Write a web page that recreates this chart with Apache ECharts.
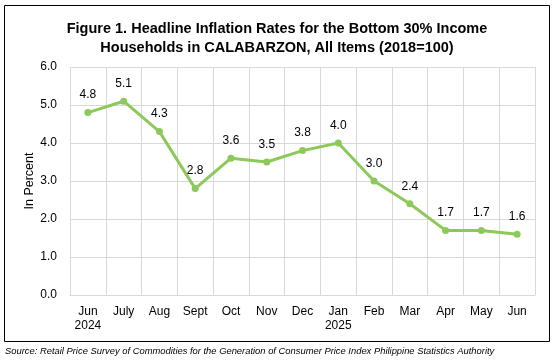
<!DOCTYPE html>
<html><head><meta charset="utf-8">
<script src="https://cdn.jsdelivr.net/npm/echarts@6/dist/echarts.min.js"></script>
<style>html,body{margin:0;padding:0;background:#fff}#c{width:554px;height:363px}</style>
</head><body><div id="c"></div>
<script>
const categories = ['Jun\n2024','July','Aug','Sept','Oct','Nov','Dec','Jan\n2025','Feb','Mar','Apr','May','Jun'];
const values = [4.8,5.1,4.3,2.8,3.6,3.5,3.8,4.0,3.0,2.4,1.7,1.7,1.6];
const yTicks = [0,1,2,3,4,5,6];
const titleText = 'Figure 1. Headline Inflation Rates for the Bottom 30% Income\nHouseholds in CALABARZON, All Items (2018=100)';
const sourceText = 'Source: Retail Price Survey of Commodities for the Generation of Consumer Price Index Philippine Statistics Authority';
const F = '"Liberation Sans", Arial, sans-serif';
const chart = echarts.init(document.getElementById('c'), null, {renderer:'canvas'});
chart.setOption({
  animation:false,
  backgroundColor:'#fff',
  title:{text:titleText,left:'center',top:14,textStyle:{fontFamily:F,fontSize:14.5,fontWeight:'bold',color:'#000',lineHeight:19}},
  graphic:[
    {type:'rect',shape:{x:4.5,y:5.5,width:545,height:336},style:{fill:'none',stroke:'#000',lineWidth:1}},
    {type:'text',left:5,top:347,style:{text:sourceText,font:'italic 9.4px '+F,fill:'#000'}}
  ],
  grid:{left:70,right:19,top:67,bottom:68},
  xAxis:{type:'category',data:categories,boundaryGap:true,
    axisLine:{show:true,lineStyle:{color:'#d9d9d9'}},axisTick:{show:false},
    splitLine:{show:true,lineStyle:{color:'#d9d9d9'}},
    axisLabel:{fontFamily:F,fontSize:12,color:'#000',margin:10,lineHeight:14,interval:0}},
  yAxis:{type:'value',min:yTicks[0],max:yTicks[yTicks.length-1],interval:1,
    name:'In Percent',nameLocation:'middle',nameGap:34,nameMoveOverlap:false,nameTextStyle:{fontFamily:F,fontSize:12.5,color:'#000'},
    axisLine:{show:false},axisTick:{show:false},
    splitLine:{lineStyle:{color:'#d9d9d9'}},
    axisLabel:{fontFamily:F,fontSize:12,color:'#000',margin:13,formatter:v=>v.toFixed(1)}},
  series:[{type:'line',data:values,symbol:'circle',symbolSize:7,
    lineStyle:{color:'#8dc85b',width:3},itemStyle:{color:'#8dc85b'},
    label:{show:true,position:'top',distance:8,fontFamily:F,fontSize:12,color:'#000',formatter:p=>p.value.toFixed(1)}}]
});
</script></body></html>
